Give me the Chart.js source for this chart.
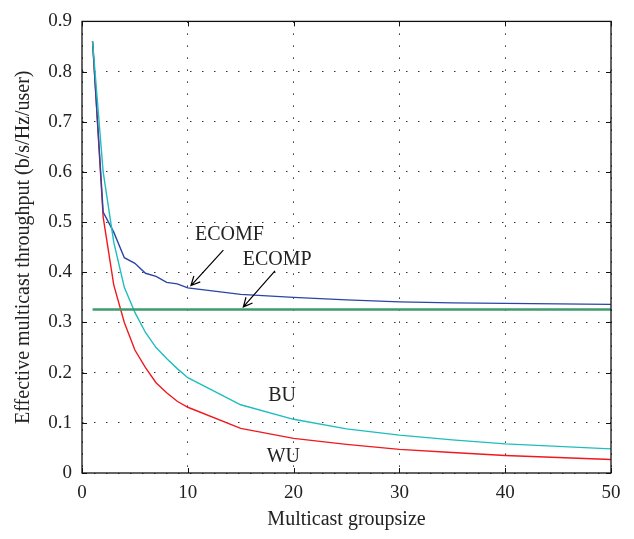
<!DOCTYPE html>
<html>
<head>
<meta charset="utf-8">
<script src="https://cdn.jsdelivr.net/npm/chart.js@4.4.0/dist/chart.umd.min.js"></script>
<style>
  html, body { margin:0; padding:0; background:#fff; }
  #wrap { width:634px; height:539px; }
</style>
</head>
<body>
<div id="wrap"><canvas id="tputChart" width="634" height="539"></canvas></div>
<script>
// ═══════════════════════════════════════════════════════
//  Effective multicast throughput vs group size
// ═══════════════════════════════════════════════════════

const GROUP_SIZE = [1, 2, 3, 4, 5, 6, 7, 8, 9, 10, 15, 20, 25, 30, 35, 40, 45, 50];
const ECOMF = [0.86, 0.52, 0.48, 0.429, 0.418, 0.398, 0.392, 0.380, 0.377, 0.369, 0.356, 0.350, 0.345, 0.341, 0.339, 0.338, 0.337, 0.336];
const ECOMP = [0.326, 0.326, 0.326, 0.326, 0.326, 0.326, 0.326, 0.326, 0.326, 0.326, 0.326, 0.326, 0.326, 0.326, 0.326, 0.326, 0.326, 0.326];
const BU    = [0.86, 0.60, 0.46, 0.37, 0.32, 0.28, 0.25, 0.228, 0.208, 0.19, 0.136, 0.107, 0.088, 0.0755, 0.066, 0.058, 0.053, 0.048];
const WU    = [0.86, 0.51, 0.375, 0.30, 0.245, 0.21, 0.18, 0.16, 0.143, 0.131, 0.089, 0.069, 0.057, 0.047, 0.041, 0.035, 0.031, 0.027];

const X_TICKS = [0, 10, 20, 30, 40, 50];
const Y_TICKS = [0, 0.1, 0.2, 0.3, 0.4, 0.5, 0.6, 0.7, 0.8, 0.9];

// labels + arrows, in data units
const LABELS = [
  { t:"ECOMF", x:10.68, y:0.465 },
  { t:"ECOMP", x:15.19, y:0.414 },
  { t:"BU",    x:17.6,  y:0.1425 },
  { t:"WU",    x:17.46, y:0.022 },
];
const ARROWS = [
  { x1:13.36, y1:0.444, x2:10.3,  y2:0.3735 },
  { x1:18.24, y1:0.403, x2:15.25, y2:0.331 },
];

const FONT = "'Liberation Serif', 'Times New Roman', serif";
Chart.defaults.font.family = FONT;
Chart.defaults.color = "#222";

const pts = ys => GROUP_SIZE.map((x,i)=>({ x, y: ys[i] }));

// ── Box, inward ticks, annotations ─────────────────────
const boxPlugin = {
  id: "box",
  afterDatasetsDraw(chart) {
    const { ctx, chartArea:a, scales:{ x, y } } = chart;
    ctx.save();
    ctx.strokeStyle = "#111";
    ctx.lineWidth = 1;
    ctx.beginPath();
    X_TICKS.forEach(v=>{
      const px = Math.round(x.getPixelForValue(v)) + 0.5;
      ctx.moveTo(px, a.bottom); ctx.lineTo(px, a.bottom - 5);
      ctx.moveTo(px, a.top);    ctx.lineTo(px, a.top + 5);
    });
    Y_TICKS.forEach(v=>{
      const py = Math.round(y.getPixelForValue(v)) + 0.5;
      ctx.moveTo(a.left, py);  ctx.lineTo(a.left + 5, py);
      ctx.moveTo(a.right, py); ctx.lineTo(a.right - 5, py);
    });
    ctx.stroke();
    ctx.lineWidth = 1.3;
    ctx.strokeRect(a.left, a.top, a.right - a.left, a.bottom - a.top);

    // arrows
    ctx.strokeStyle = "#000";
    ctx.lineWidth = 1.2;
    ARROWS.forEach(r=>{
      const x1 = x.getPixelForValue(r.x1), y1 = y.getPixelForValue(r.y1);
      const x2 = x.getPixelForValue(r.x2), y2 = y.getPixelForValue(r.y2);
      const ang = Math.atan2(y2 - y1, x2 - x1), h = 10;
      ctx.beginPath();
      ctx.moveTo(x1, y1); ctx.lineTo(x2, y2);
      ctx.moveTo(x2 - h*Math.cos(ang - 0.45), y2 - h*Math.sin(ang - 0.45));
      ctx.lineTo(x2, y2);
      ctx.lineTo(x2 - h*Math.cos(ang + 0.45), y2 - h*Math.sin(ang + 0.45));
      ctx.stroke();
    });

    // labels
    ctx.fillStyle = "#222";
    ctx.font = "20px " + FONT;
    ctx.textAlign = "left";
    ctx.textBaseline = "alphabetic";
    LABELS.forEach(l=> ctx.fillText(l.t, x.getPixelForValue(l.x), y.getPixelForValue(l.y)));
    ctx.restore();
  }
};

const line = (label, ys, color, w) => ({
  label, data: pts(ys), borderColor: color, borderWidth: w,
  pointRadius: 0, tension: 0, fill: false,
});

new Chart(document.getElementById("tputChart"), {
  type: "line",
  data: {
    datasets: [
      line("ECOMP", ECOMP, "#3f9b6d", 2.5),
      line("BU",    BU,    "#1fbdbd", 1.4),
      line("ECOMF", ECOMF, "#2a45a6", 1.4),
      line("WU",    WU,    "#f0191e", 1.4),
    ]
  },
  options: {
    responsive:false, animation:false, devicePixelRatio:1,
    layout:{ padding:{ top:12, right:23, left:0, bottom:0 } },
    plugins:{ legend:{ display:false }, tooltip:{ enabled:false } },
    scales:{
      x:{
        type:"linear", min:0, max:50,
        afterBuildTicks: s => { s.ticks = X_TICKS.map(v=>({ value:v })); },
        afterFit: s => { s.height = 66; },
        grid:{ color:"#333", lineWidth:1, drawTicks:false },
        border:{ display:false, dash:[1.5, 10.5] },
        ticks:{ padding:9, font:{ size:19 }, color:"#222", maxRotation:0 },
        title:{ display:true, text:"Multicast groupsize", font:{ size:20 }, color:"#222", padding:{ bottom:7, top:0 } }
      },
      y:{
        min:0, max:0.9,
        afterBuildTicks: s => { s.ticks = Y_TICKS.map(v=>({ value:v })); },
        afterFit: s => { s.width = 82; },
        grid:{ color:"#333", lineWidth:1, drawTicks:false },
        border:{ display:false, dash:[1.5, 10.5] },
        ticks:{ padding:10, font:{ size:19 }, color:"#222", callback: v => +v.toFixed(1) },
        title:{ display:true, text:"Effective multicast throughput (b/s/Hz/user)", font:{ size:20 }, color:"#222", padding:{ top:12, bottom:0 } }
      }
    }
  },
  plugins:[boxPlugin]
});
</script>
</body>
</html>
